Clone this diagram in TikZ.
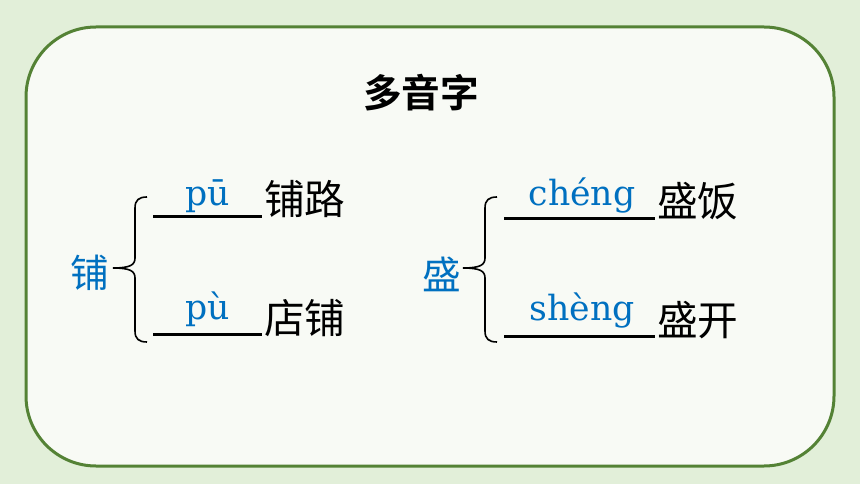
\documentclass[tikz,border=0pt]{standalone}
\usepackage{fontspec}
\setmainfont{DejaVu Serif}
\newfontfamily\cjk{Noto Sans CJK SC}
\newfontfamily\cjkbold{Noto Sans CJK SC Bold}
\definecolor{bgouter}{RGB}{226,239,217}
\definecolor{bginner}{RGB}{248,250,245}
\definecolor{frame}{RGB}{84,130,53}
\definecolor{pyblue}{RGB}{0,112,192}
\tikzset{
  zi/.style={inner sep=0.75pt, font=\cjk\fontsize{30.5}{32}\selectfont},
  duoyin/.style={zi, text=pyblue, font=\cjk\fontsize{29}{30}\selectfont},
  pinyin/.style={inner sep=0.75pt, anchor=base, text=pyblue, font=\fontsize{26}{28}\selectfont},
  kongxian/.style={line width=2.25}
}
\begin{document}
\begin{tikzpicture}[x=0.75pt,y=0.75pt,yscale=-1,xscale=1]
\useasboundingbox (0,0) rectangle (860,484);

%Shape: Rectangle [id:background]
\fill [bgouter] (0,0) rectangle (860,484);
%Shape: Rounded Rect [id:frame]
\draw [line width=2.25, color=frame, fill=bginner, rounded corners=52.5pt] (26,27) rectangle (834,466);

% Text Node
\node (title) [inner sep=0.75pt, font=\cjkbold\fontsize{29}{30}\selectfont] at (421,93) {多音字};

%Left group
\node (pu) [duoyin] at (90,273) {铺};
%Shape: Brace [id:bracepu]
\draw [line width=1.2] (147,197) .. controls (139,197) and (135,200) .. (135,208) -- (135,258) .. controls (135,265) and (130,268) .. (113,268) .. controls (130,268) and (135,271) .. (135,278) -- (135,331) .. controls (135,339) and (139,342) .. (147,342);
%Straight Lines [id:linepu1]
\draw [kongxian] (153,217) -- (262,217) coordinate (pu1);
%Straight Lines [id:linepu2]
\draw [kongxian] (153,335) -- (262,335) coordinate (pu2);
% Text Node
\node (pyp1) [pinyin] at (208,206) {pū};
% Text Node
\node (pyp2) [pinyin] at (208,320) {pù};
% Text Node
\node (puluo) [zi, anchor=west] at (263,199) {铺路};
% Text Node
\node (dianpu) [zi, anchor=west] at (263,318) {店铺};

%Right group
\node (sheng) [duoyin] at (442,274) {盛};
%Shape: Brace [id:bracesheng]
\draw [line width=1.2] (497,197) .. controls (489,197) and (485,200) .. (485,208) -- (485,258) .. controls (485,265) and (480,268) .. (463,268) .. controls (480,268) and (485,271) .. (485,278) -- (485,331) .. controls (485,339) and (489,342) .. (497,342);
%Straight Lines [id:linesheng1]
\draw [kongxian] (504,219) -- (655,219) coordinate (sh1);
%Straight Lines [id:linesheng2]
\draw [kongxian] (504,337) -- (655,337) coordinate (sh2);
% Text Node
\node (pys1) [pinyin] at (582,206) {chéng};
% Text Node
\node (pys2) [pinyin] at (582,321) {shèng};
% Text Node
\node (shengfan) [zi, anchor=west] at (656,201) {盛饭};
% Text Node
\node (shengkai) [zi, anchor=west] at (656,320) {盛开};

\end{tikzpicture}
\end{document}
